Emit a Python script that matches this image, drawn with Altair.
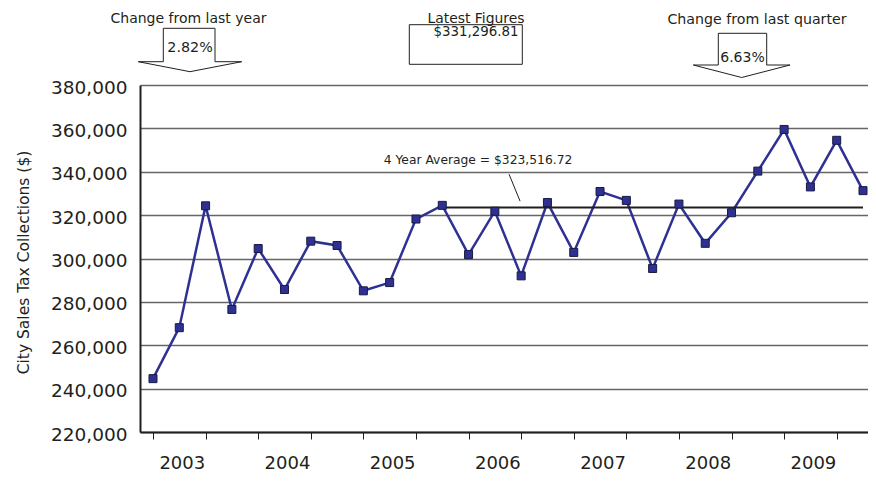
import altair as alt
import pandas as pd

# ---------------- data ----------------
values = [244600, 268100, 324300, 276500, 304600, 285700, 308000, 306000,
          285100, 288900, 318200, 324500, 301800, 321800, 292000, 325800,
          302800, 330900, 326800, 295400, 325100, 307000, 321100, 340300,
          359500, 333000, 354500, 331296.81]
years = [2003, 2004, 2005, 2006, 2007, 2008, 2009]
y_ticks = [220000, 240000, 260000, 280000, 300000, 320000, 340000, 360000, 380000]
avg_value = 323516.72
avg_start, avg_end = 11, 27
avg_text = "4 Year Average = $323,516.72"

FONT = "DejaVu Sans"
TXT = "#231f20"
NAVY = "#2e3192"

W, H = 728, 347
PL, PT = 132, 77          # padding -> plot origin at page (140, 85)
OX, OY = 140, 85          # page offset of plot origin

# annotation shapes (page coords)
arrow_year = [(163.3, 28.3), (163.3, 61.7), (138.3, 61.7), (190, 71.7),
              (241.7, 61.7), (215, 61.7), (215, 28.3), (163.3, 28.3)]
arrow_quarter = [(718.3, 33.3), (718.3, 65), (693.3, 65), (741.7, 77.5),
                 (790, 65), (766.7, 65), (766.7, 33.3), (718.3, 33.3)]
latest_box = [(409.3, 24.7), (522.3, 24.7), (522.3, 64.3), (409.3, 64.3), (409.3, 24.7)]
top_texts = [("Change from last year", 188.5, 19, 14),
             ("2.82%", 190, 47.5, 14.3),
             ("Latest Figures", 476, 18.5, 13.9),
             ("$331,296.81", 476, 32, 13.4),
             ("Change from last quarter", 757, 20, 14.2),
             ("6.63%", 742.5, 58, 14)]

df = pd.DataFrame({"q": list(range(len(values))), "v": values})
x_scale = alt.Scale(domain=[-0.494, 27.19], nice=False, zero=False)
y_scale = alt.Scale(domain=[220000, 380000], nice=False, zero=False)

x_axis = alt.Axis(values=list(range(len(values))), labels=False, ticks=True, tickSize=7,
                  tickColor=TXT, tickWidth=1, domainColor=TXT, domainWidth=2,
                  grid=False, title=None)
y_axis = alt.Axis(values=y_ticks, format=",.0f", labelFont=FONT, labelFontSize=18.5,
                  labelColor=TXT, labelPadding=13, labelOffset=2, ticks=False,
                  domainColor=TXT, domainWidth=2, grid=True, gridColor="#666",
                  gridWidth=1.3, title="City Sales Tax Collections ($)",
                  titleFont=FONT, titleFontSize=15.5, titleFontWeight="normal",
                  titleColor=TXT, titleX=23 - OX, titleY=262 - OY, titleAngle=270,
                  titleAlign="center", titleBaseline="middle")

base = alt.Chart(df)
line = base.mark_line(color=NAVY, strokeWidth=2.5).encode(
    x=alt.X("q:Q", scale=x_scale, axis=x_axis),
    y=alt.Y("v:Q", scale=y_scale, axis=y_axis),
)
pts = base.mark_square(size=64, fill=NAVY, stroke="#1a1a40", strokeWidth=1, opacity=1).encode(
    x=alt.X("q:Q", scale=x_scale),
    y=alt.Y("v:Q", scale=y_scale),
)

avg_df = pd.DataFrame({"q": [avg_start], "q2": [avg_end], "v": [avg_value]})
avg_rule = alt.Chart(avg_df).mark_rule(color=TXT, strokeWidth=2).encode(
    x=alt.X("q:Q", scale=x_scale), x2="q2:Q", y=alt.Y("v:Q", scale=y_scale))

avg_lab_df = pd.DataFrame({"q": [12.36], "v": [345440], "t": [avg_text]})
avg_lab = alt.Chart(avg_lab_df).mark_text(font=FONT, fontSize=12.3, color=TXT,
                                          baseline="middle", align="center").encode(
    x=alt.X("q:Q", scale=x_scale), y=alt.Y("v:Q", scale=y_scale), text="t:N")

leader_df = pd.DataFrame({"q": [13.54], "q2": [13.96], "v": [338860], "v2": [326440]})
leader = alt.Chart(leader_df).mark_rule(color=TXT, strokeWidth=1).encode(
    x=alt.X("q:Q", scale=x_scale), x2="q2:Q", y=alt.Y("v:Q", scale=y_scale), y2="v2:Q")

year_df = pd.DataFrame({"q": [4 * i + 1 for i in range(len(years))],
                        "t": [str(y) for y in years]})
year_lab = alt.Chart(year_df).mark_text(font=FONT, fontSize=18, color=TXT,
                                        baseline="alphabetic", align="center", dx=3).encode(
    x=alt.X("q:Q", scale=x_scale), y=alt.value(469 - OY), text="t:N")

one = pd.DataFrame({"a": [0]})
layers = [line, avg_rule, leader, pts, avg_lab, year_lab]
for shape in (arrow_year, arrow_quarter, latest_box):
    for (x1, y1), (x2, y2) in zip(shape[:-1], shape[1:]):
        layers.append(alt.Chart(one).mark_rule(color=TXT, strokeWidth=1).encode(
            x=alt.value(x1 - OX), x2=alt.value(x2 - OX),
            y=alt.value(y1 - OY), y2=alt.value(y2 - OY)))
for t, cx, cy, fs in top_texts:
    layers.append(alt.Chart(one).mark_text(text=t, font=FONT, fontSize=fs, color=TXT,
                                           align="center", baseline="middle").encode(
        x=alt.value(cx - OX), y=alt.value(cy - OY)))

chart = alt.layer(*layers).properties(
    width=W, height=H,
    autosize=alt.AutoSizeParams(type="none"),
    padding={"left": PL, "top": PT, "right": 0, "bottom": 43},
    background="white",
).configure_view(strokeWidth=0)

chart.save("out.html", embed_options={"renderer": "svg", "actions": False})
